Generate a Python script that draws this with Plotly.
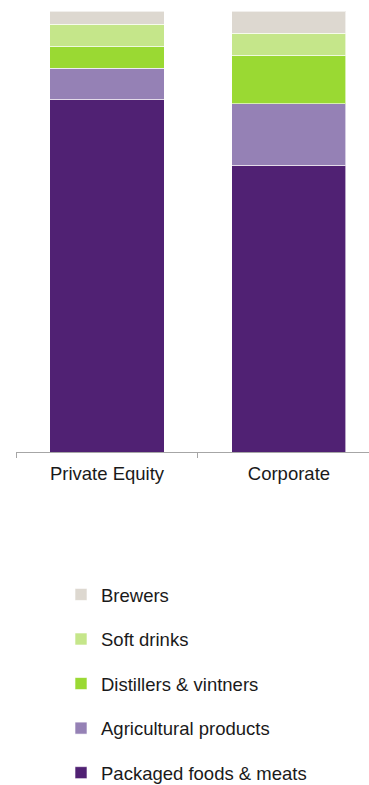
import plotly.graph_objects as go

# Deal mix by acquirer type (% share of deals)
categories = ["Private Equity", "Corporate"]
sectors = ["Packaged foods & meats", "Agricultural products", "Distillers & vintners",
           "Soft drinks", "Brewers"]
packaged_foods = [80, 65]
agricultural = [7, 14]
distillers = [5, 11]
soft_drinks = [5, 5]
brewers = [3, 5]
colors = ["#502173", "#9581b5", "#9ad933", "#c5e68a", "#ddd8d0"]

series = [packaged_foods, agricultural, distillers, soft_drinks, brewers]

fig = go.Figure()
for i, (name, vals, col) in enumerate(zip(sectors, series, colors)):
    fig.add_trace(go.Bar(
        x=categories, y=vals, name=name, legendgroup=name,
        legendrank=len(sectors) - i,  # top segment listed first
        marker=dict(color=col, line=dict(color="rgba(255,255,255,0.6)", width=1)),
    ))

font = dict(family="Liberation Sans, Arial, sans-serif", size=18.5, color="#1a1a1a")

fig.update_layout(
    width=369, height=785,
    barmode="stack", bargap=0.373,
    margin=dict(l=16, r=0, t=11, b=333, autoexpand=False),
    paper_bgcolor="white", plot_bgcolor="white",
    font=font,
    showlegend=True,
    legend=dict(
        orientation="v", traceorder="grouped", tracegroupgap=17.5,
        x=0.1275, xanchor="left", y=-0.281, yanchor="top",
        font=font, itemwidth=30,
    ),
    xaxis=dict(
        range=[-0.5, 1.44], showline=True, linecolor="#a6a6a6", linewidth=1,
        ticks="outside", tickson="boundaries", ticklen=5, tickcolor="#a6a6a6",
        ticklabelstandoff=5,
        showgrid=False, tickfont=font,
    ),
    yaxis=dict(range=[0, 100], visible=False, showgrid=False),
)

fig.write_html("out.html")
